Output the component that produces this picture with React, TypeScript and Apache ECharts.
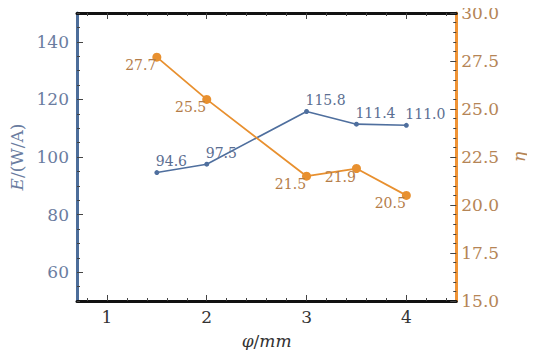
import React, { useEffect, useRef } from "react";
import * as echarts from "echarts";

const xValues = [1.5, 2, 3, 3.5, 4];
const eValues = [94.6, 97.5, 115.8, 111.4, 111.0];
const etaValues = [27.7, 25.5, 21.5, 21.9, 20.5];

const xMajorTicks = [1, 2, 3, 4];
const xMinorTicks = [0.8, 1.2, 1.4, 1.6, 1.8, 2.2, 2.4, 2.6, 2.8, 3.2, 3.4, 3.6, 3.8, 4.2, 4.4];
const eMajorTicks = [60, 80, 100, 120, 140];

const FONT = "DejaVu Serif";
const BLUE = "#4f6f9e";
const ORANGE = "#e8902f";
const TICK = "#444";

export default function App() {
  const ref = useRef<HTMLDivElement>(null);
  useEffect(() => {
    if (!ref.current) return;
    const chart = echarts.init(ref.current, undefined, { renderer: "svg" });
    const xBase = { type: "value", min: 0.7, max: 4.5, splitLine: { show: false } };
    chart.setOption({
      animation: false,
      backgroundColor: "#fff",
      textStyle: { fontFamily: FONT },
      grid: { left: 77, right: 72, top: 13, bottom: 57 },
      xAxis: [
        {
          ...xBase,
          position: "bottom",
          name: "{i|φ}/{i|mm}",
          nameLocation: "middle",
          nameGap: 31,
          nameTextStyle: {
            fontFamily: FONT, fontSize: 17, color: "#333",
            rich: { i: { fontFamily: FONT, fontSize: 17, fontStyle: "italic", color: "#333" } },
          },
          axisLine: { show: true, onZero: false, lineStyle: { color: "#111", width: 3 } },
          axisTick: { show: true, inside: true, length: 6, customValues: xMajorTicks, lineStyle: { color: TICK, width: 1 } },
          axisLabel: { customValues: xMajorTicks, fontFamily: FONT, fontSize: 17, color: "#333", margin: 7 },
        },
        {
          ...xBase,
          position: "bottom",
          axisLine: { show: false, onZero: false },
          axisTick: { show: true, inside: true, length: 3, customValues: xMinorTicks, lineStyle: { color: TICK, width: 1 } },
          axisLabel: { show: false },
        },
        {
          ...xBase,
          position: "top",
          axisLine: { show: true, onZero: false, lineStyle: { color: "#111", width: 3 } },
          axisTick: { show: true, inside: true, length: 6, customValues: xMajorTicks, lineStyle: { color: TICK, width: 1 } },
          axisLabel: { show: false },
        },
        {
          ...xBase,
          position: "top",
          axisLine: { show: false, onZero: false },
          axisTick: { show: true, inside: true, length: 3, customValues: xMinorTicks, lineStyle: { color: TICK, width: 1 } },
          axisLabel: { show: false },
        },
      ],
      yAxis: [
        {
          type: "value",
          position: "left",
          min: 50,
          max: 150,
          splitLine: { show: false },
          name: "{i|E}/(W/A)",
          nameLocation: "middle",
          nameGap: 44,
          nameTextStyle: {
            fontFamily: FONT, fontSize: 17, color: "#6a7ca0",
            rich: { i: { fontFamily: FONT, fontSize: 17, fontStyle: "italic", color: "#6a7ca0" } },
          },
          axisLine: { show: true, onZero: false, lineStyle: { color: "#4c6d9a", width: 3 } },
          axisTick: { show: true, inside: true, length: 6, customValues: eMajorTicks, lineStyle: { color: TICK, width: 1 } },
          axisLabel: { customValues: eMajorTicks, fontFamily: FONT, fontSize: 17, color: "#6a7ca0", margin: 8 },
        },
        {
          type: "value",
          position: "left",
          min: 50,
          max: 150,
          interval: 5,
          splitLine: { show: false },
          axisLine: { show: false, onZero: false },
          axisTick: { show: true, inside: true, length: 3, lineStyle: { color: TICK, width: 1 } },
          axisLabel: { show: false },
        },
        {
          type: "value",
          position: "right",
          min: 15,
          max: 30,
          interval: 2.5,
          splitLine: { show: false },
          name: "{i|η}",
          nameLocation: "middle",
          nameGap: 50,
          nameTextStyle: {
            fontFamily: FONT, fontSize: 17, color: "#b58556",
            rich: { i: { fontFamily: FONT, fontSize: 17, fontStyle: "italic", color: "#b58556" } },
          },
          axisLine: { show: true, onZero: false, lineStyle: { color: "#ef9335", width: 3 } },
          axisTick: { show: true, inside: true, length: 6, lineStyle: { color: TICK, width: 1 } },
          minorTick: { show: true, splitNumber: 5, length: 3, lineStyle: { color: TICK, width: 1 } },
          axisLabel: {
            fontFamily: FONT, fontSize: 17, color: "#b58556", margin: 5,
            formatter: (v: number) => v.toFixed(1),
          },
        },
      ],
      series: [
        {
          type: "line",
          xAxisIndex: 0,
          yAxisIndex: 0,
          data: xValues.map((x, i) => [x, eValues[i]]),
          symbol: "circle",
          symbolSize: 5,
          lineStyle: { color: BLUE, width: 1.6 },
          itemStyle: { color: BLUE },
          label: {
            show: true,
            position: "top",
            align: "left",
            distance: 2,
            offset: [-1, 0],
            fontFamily: FONT,
            fontSize: 14,
            color: "#5b6e91",
            formatter: (p: any) => p.value[1].toFixed(1),
          },
        },
        {
          type: "line",
          xAxisIndex: 0,
          yAxisIndex: 2,
          data: xValues.map((x, i) => [x, etaValues[i]]),
          symbol: "circle",
          symbolSize: 9,
          lineStyle: { color: ORANGE, width: 1.8 },
          itemStyle: { color: ORANGE },
          label: {
            show: true,
            position: "left",
            distance: 0,
            offset: [4, 8],
            fontFamily: FONT,
            fontSize: 14,
            color: "#b47c48",
            formatter: (p: any) => p.value[1].toFixed(1),
          },
        },
      ],
    });
    return () => chart.dispose();
  }, []);
  return <div ref={ref} style={{ width: 535, height: 358, margin: -8 }} />;
}
